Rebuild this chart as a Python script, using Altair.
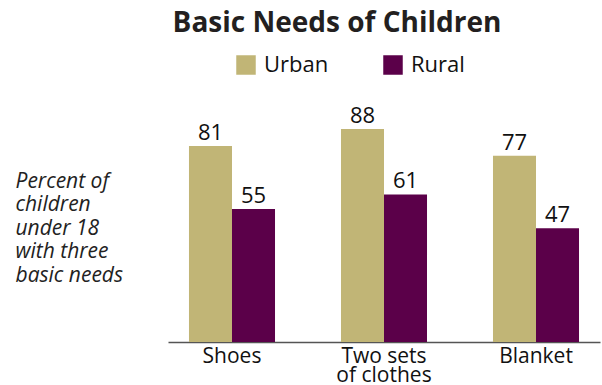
import altair as alt
import pandas as pd

categories = ["Shoes", "Two sets of clothes", "Blanket"]
urban = [81, 88, 77]
rural = [55, 61, 47]
groups = ["Urban", "Rural"]
colors = ["#c1b576", "#5b0049"]

rows = []
for c, u, r in zip(categories, urban, rural):
    rows.append({"cat": c, "group": "Urban", "value": u})
    rows.append({"cat": c, "group": "Rural", "value": r})
df = pd.DataFrame(rows)

FONT = "Open Sans"

x = alt.X("cat:N", sort=categories, title=None,
          scale=alt.Scale(paddingInner=0.434, paddingOuter=0.138),
          axis=alt.Axis(labelAngle=0, labelFontSize=21, labelFont=FONT, labelColor="#111",
                        ticks=False, domainColor="#555", domainWidth=1.5, labelPadding=3,
                        labelLineHeight=19,
                        labelExpr="datum.value == 'Two sets of clothes' ? ['Two sets', 'of clothes'] : datum.label"))
y = alt.Y("value:Q", scale=alt.Scale(domain=[0, 100]),
          axis=alt.Axis(labels=False, ticks=False, domain=False, grid=False,
                        title=["Percent of", "children", "under 18", "with three", "basic needs"],
                        titleAngle=0, titleAlign="left", titleBaseline="top",
                        titleX=-153, titleY=70, titleFontSize=21, titleFont=FONT,
                        titleFontStyle="italic", titleFontWeight="normal",
                        titleLineHeight=23.5, titleColor="#222"))

base = alt.Chart(df).encode(
    x=x,
    xOffset=alt.XOffset("group:N", sort=groups),
    y=y,
)

bars = base.mark_bar().encode(
    color=alt.Color("group:N", sort=groups,
                    scale=alt.Scale(domain=groups, range=colors),
                    legend=alt.Legend(title=None, orient="none", direction="horizontal",
                                      legendX=67, legendY=-46, symbolType="square",
                                      symbolSize=380, symbolStrokeWidth=0, symbolOpacity=1,
                                      labelFontSize=22, labelFont=FONT, labelColor="#111",
                                      columnPadding=53, labelOffset=7))
)

labels = base.mark_text(baseline="alphabetic", dy=-6, fontSize=22, font=FONT, color="#111").encode(
    text="value:Q"
)

chart = alt.layer(bars, labels).properties(
    width=432, height=242,
    title=alt.TitleParams("Basic Needs of Children", fontSize=28, font=FONT, fontWeight="bold",
                          color="#231f20", anchor="middle", dx=-47, offset=16),
    autosize=alt.AutoSizeParams(type="none"),
    padding={"left": 168, "top": 100, "right": 2, "bottom": 43},
).configure_view(stroke=None)

chart.save("out.html", embed_options={"renderer": "svg", "actions": False})
